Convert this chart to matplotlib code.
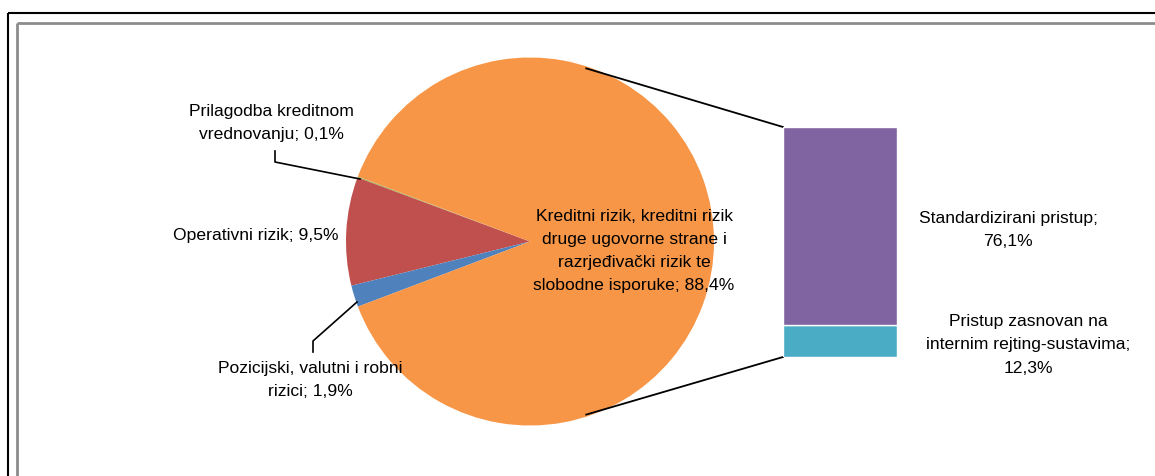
import numpy as np
import matplotlib
matplotlib.use("Agg")
import matplotlib.pyplot as plt

# ---- data ----
pie_labels = [
    "Prilagodba kreditnom\nvrednovanju; 0,1%",
    "Operativni rizik; 9,5%",
    "Pozicijski, valutni i robni\nrizici; 1,9%",
    "Kreditni rizik, kreditni rizik\ndruge ugovorne strane i\nrazrjeđivački rizik te\nslobodne isporuke; 88,4%",
]
pie_values = [0.1, 9.5, 1.9, 88.4]
pie_colors = ["#9BBB59", "#C0504D", "#4F81BD", "#F79646"]

bar_labels = ["Pristup zasnovan na\ninternim rejting-sustavima;\n12,3%",
              "Standardizirani pristup;\n76,1%"]
bar_values = [12.3, 76.1]
bar_colors = ["#4BACC6", "#8064A2"]

plt.rcParams['font.family'] = ['Liberation Sans', 'DejaVu Sans']

W, H = 1155, 477
fig = plt.figure(figsize=(W / 100, H / 100), dpi=100)
ax = fig.add_axes([0, 0, 1, 1])

def Y(y):  # pixel-from-top -> data y
    return H - y

# pie geometry
cx, cy, r = 530, Y(242.5), 184
split = sum(pie_values[:3])
start = 180 - split / 100 * 360 / 2
ax.pie(pie_values, colors=pie_colors, startangle=start, counterclock=True,
       center=(cx, cy), radius=r, frame=True,
       wedgeprops=dict(linewidth=0))

ax.set_xlim(0, W)
ax.set_ylim(0, H)
ax.set_aspect('equal')
ax.axis('off')

# bar of the split
bx0, bx1, by_top, by_bot = 783, 897, 128, 358
bax = fig.add_axes([bx0 / W, Y(by_bot) / H, (bx1 - bx0) / W, (by_bot - by_top) / H])
bottom = 0
for v, c in zip(bar_values, bar_colors):
    bax.bar(0, v, bottom=bottom, width=1.0, color=c, edgecolor='white', linewidth=1)
    bottom += v
bax.set_xlim(-0.5, 0.5)
bax.set_ylim(0, sum(bar_values))
bax.axis('off')

# connector lines
ang = np.deg2rad(72)
ax.plot([cx + (r - 2) * np.cos(ang), bx0], [cy + (r - 2) * np.sin(ang), Y(by_top)], color='black', lw=1.3)
ax.plot([cx + (r - 2) * np.cos(ang), bx0], [cy - (r - 2) * np.sin(ang), Y(by_bot)], color='black', lw=1.3)

fs = 12.6
ls = 1.68
# pie labels
ax.text(271, Y(123), pie_labels[0], ha='center', va='center', fontsize=fs, linespacing=ls)
ax.text(256, Y(236), pie_labels[1], ha='center', va='center', fontsize=fs, linespacing=ls)
ax.text(310, Y(380), pie_labels[2], ha='center', va='center', fontsize=fs, linespacing=ls)
ax.text(634, Y(251), pie_labels[3], ha='center', va='center', fontsize=fs, linespacing=ls)
# bar labels
ax.text(1028, Y(345), bar_labels[0], ha='center', va='center', fontsize=fs, linespacing=ls)
ax.text(1008, Y(230), bar_labels[1], ha='center', va='center', fontsize=fs, linespacing=ls)

# leader lines
ax.plot([275, 275, 360], [Y(152), Y(163), Y(180)], color='black', lw=1.2)
ax.plot([313, 313, 357], [Y(353), Y(342), Y(303)], color='black', lw=1.2)

# frame lines
ax.plot([8, W], [Y(14), Y(14)], color='black', lw=1.5, solid_capstyle='butt')
ax.plot([8, 8], [Y(14), 0], color='black', lw=1.5, solid_capstyle='butt')
ax.plot([17, W], [Y(23.5), Y(23.5)], color='#8C8C8C', lw=2, solid_capstyle='butt')
ax.plot([17, 17], [Y(23.5), 0], color='#8C8C8C', lw=2, solid_capstyle='butt')

fig.savefig("out.png", dpi=100)
